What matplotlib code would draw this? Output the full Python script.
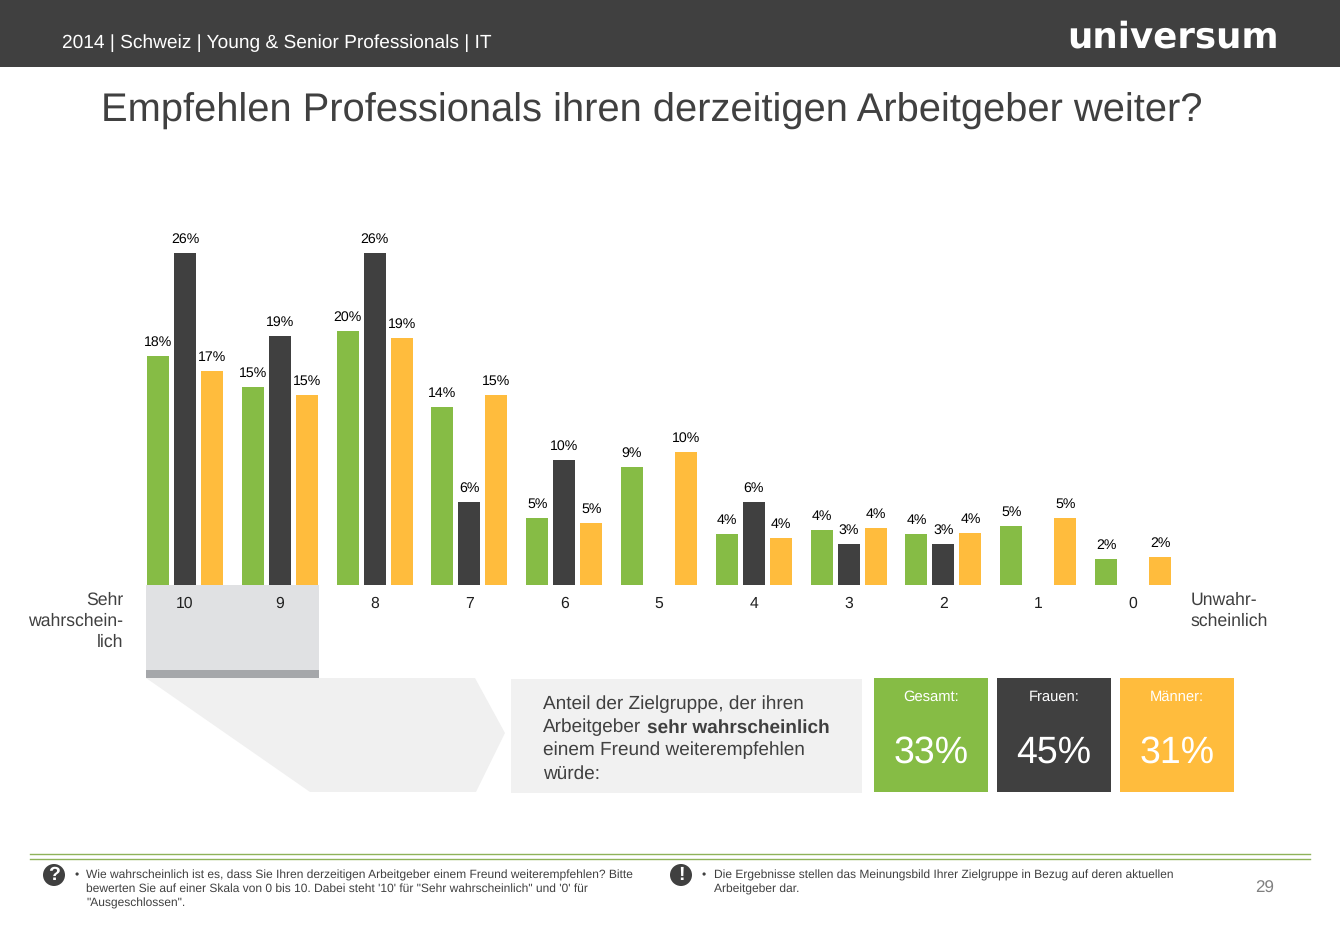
import matplotlib
matplotlib.use("Agg")
import matplotlib.pyplot as plt
from matplotlib.patches import Rectangle, Polygon, Circle
import numpy as np

plt.rcParams['font.family'] = ['Liberation Sans', 'DejaVu Sans']
plt.rcParams['text.hinting'] = 'no_hinting'

categories = ['10', '9', '8', '7', '6', '5', '4', '3', '2', '1', '0']
gesamt = [17.9, 15.45, 19.85, 13.9, 5.2, 9.2, 4.0, 4.3, 4.0, 4.6, 2.0]
frauen = [25.9, 19.45, 25.9, 6.45, 9.8, np.nan, 6.45, 3.2, 3.2, np.nan, np.nan]
maenner = [16.7, 14.85, 19.3, 14.85, 4.85, 10.4, 3.7, 4.45, 4.05, 5.2, 2.2]
gesamt_lbl = ['18%', '15%', '20%', '14%', '5%', '9%', '4%', '4%', '4%', '5%', '2%']
frauen_lbl = ['26%', '19%', '26%', '6%', '10%', '', '6%', '3%', '3%', '', '']
maenner_lbl = ['17%', '15%', '19%', '15%', '5%', '10%', '4%', '4%', '4%', '5%', '2%']

GREEN, DARK, YELLOW = '#86BC45', '#404040', '#FFBC3D'
TXT = '#404040'
W, H = 1340, 947

fig = plt.figure(figsize=(W / 100, H / 100), dpi=100, facecolor='white')
bg = fig.add_axes([0, 0, 1, 1])
bg.set_xlim(0, W); bg.set_ylim(H, 0); bg.axis('off')

def rect(x0, y0, x1, y1, c, z=1):
    bg.add_patch(Rectangle((x0, y0), x1 - x0, y1 - y0, fc=c, ec='none', zorder=z))

def txt(x, y, s, px, c=TXT, ha='left', va='center', **kw):
    bg.text(x, y, s, fontsize=px * 0.72, color=c, ha=ha, va=va, **kw)

# header
rect(0, 0, W, 67, DARK)
txt(62, 43, '2014 | Schweiz | Young & Senior Professionals | IT', 19.2, 'white')
bg.text(1173, 47, 'universum', fontsize=25.7, color='white', ha='center', va='baseline',
        family='DejaVu Sans', fontweight='bold')
txt(652, 111, 'Empfehlen Professionals ihren derzeitigen Arbeitgeber weiter?', 39.9, ha='center')

# highlight and arrow
rect(146, 585, 319, 670, '#E0E1E3')
rect(146, 670, 319, 678, '#A5A7AA')
bg.add_patch(Polygon([(146, 678), (475, 678), (505, 733), (476, 792), (310, 792)],
                     fc='#F0F0F0', ec='none', zorder=1))

# side labels
for y, s in zip((600.5, 621, 642), ('Sehr', 'wahrschein-', 'lich')):
    txt(123, y, s, 17.6, ha='right')
for y, s in zip((600.5, 621), ('Unwahr-', 'scheinlich')):
    txt(1191, y, s, 17.6)

# summary box
rect(511, 679, 862, 793, '#F1F1F1')
txt(543, 704.5, 'Anteil der Zielgruppe, der ihren', 19)
txt(543, 727.5, 'Arbeitgeber', 19)
txt(647, 727.5, 'sehr wahrscheinlich', 19, fontweight='bold')
txt(543, 750.5, 'einem Freund weiterempfehlen', 19)
txt(543, 773.5, 'würde:', 19)

tiles = [(874, 988, GREEN, 'Gesamt:', '33%'),
         (997, 1111, DARK, 'Frauen:', '45%'),
         (1120, 1234, YELLOW, 'Männer:', '31%')]
for x0, x1, c, a, b in tiles:
    rect(x0, 678, x1, 792, c)
    txt((x0 + x1) / 2, 696.5, a, 14.8, 'white', ha='center')
    txt((x0 + x1) / 2, 753, b, 37.5, 'white', ha='center')

# footer
for y in (854, 859):
    bg.plot([30, 1310], [y, y], color='#8FB35A', lw=1.0, zorder=1)
for cx, s in ((54, '?'), (681, '!')):
    bg.add_patch(Circle((cx, 875), 11, fc=DARK, ec='none', zorder=2))
    bg.text(cx, 875.5, s, fontsize=14, fontweight='bold', color='white', ha='center', va='center', zorder=3)
F = 12
txt(75, 875, '•', F)
txt(86.5, 875, 'Wie wahrscheinlich ist es, dass Sie Ihren derzeitigen Arbeitgeber einem Freund weiterempfehlen? Bitte', F)
txt(86.5, 889, "bewerten Sie auf einer Skala von 0 bis 10. Dabei steht '10' für \"Sehr wahrscheinlich\" und '0' für", F)
txt(86.5, 903, '"Ausgeschlossen".', F)
txt(702, 875, '•', F)
txt(714, 875, 'Die Ergebnisse stellen das Meinungsbild Ihrer Zielgruppe in Bezug auf deren aktuellen', F)
txt(714, 889, 'Arbeitgeber dar.', F)
txt(1265, 888, '29', 17, '#808080', ha='center')

# chart axes: baseline at y=585px, 12.8 px per percent
left, right, top, bottom = 132, 1186, 215, 585
ax = fig.add_axes([left / W, 1 - bottom / H, (right - left) / W, (bottom - top) / H])
ax.patch.set_alpha(0)
pitch = 94.8
ax.set_xlim((left - 185) / pitch, (right - 185) / pitch)
ax.set_ylim(0, (bottom - top) / 12.8)
x = np.arange(len(categories))
bw, off = 22 / pitch, 27 / pitch
for s, c, lab, d in ((gesamt, GREEN, gesamt_lbl, -off), (frauen, DARK, frauen_lbl, 0), (maenner, YELLOW, maenner_lbl, off)):
    vals = np.array(s, dtype=float)
    ax.bar(x + d, np.nan_to_num(vals), bw, color=c, linewidth=0)
    for xi, v, l in zip(x + d, vals, lab):
        if l:
            ax.annotate(l, (xi, v), xytext=(0, 5.2), textcoords='offset points',
                        ha='center', va='bottom', fontsize=10.2, color='black')
for sp in ax.spines.values():
    sp.set_visible(False)
ax.set_yticks([])
ax.set_xticks(x, categories)
ax.tick_params(axis='x', length=0, pad=8.2, labelsize=11.3, labelcolor='#202020')

fig.savefig('out.png', dpi=100)
